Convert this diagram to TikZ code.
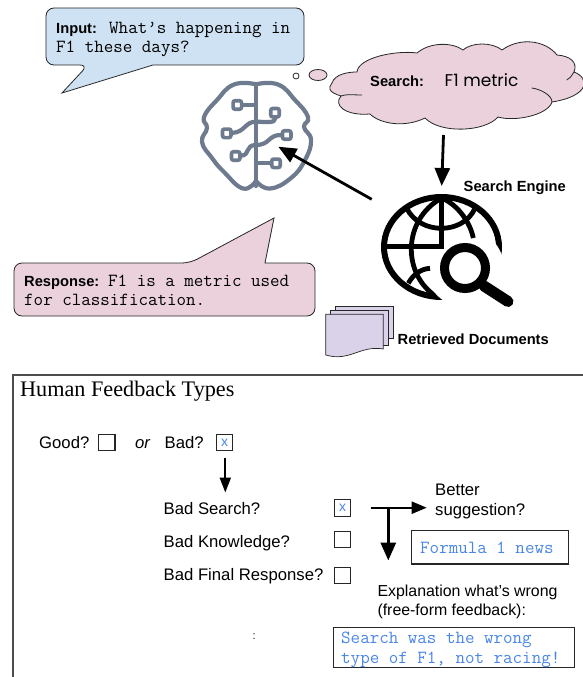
\documentclass[tikz,border=0pt]{standalone}
\usepackage{fontspec}
\setmainfont{Liberation Sans}
\newfontfamily\titlefont{Liberation Serif}
\newfontfamily\queryfont{Poppins}
\usetikzlibrary{arrows.meta}
\definecolor{inputblue}{HTML}{CFE2F3}
\definecolor{responsepink}{HTML}{EAD1DC}
\definecolor{docpurple}{HTML}{D9D2E9}
\definecolor{brainslate}{HTML}{6E7B8E}
\definecolor{typedblue}{HTML}{4A86E8}
\tikzset{
    txt/.style={anchor=base west, inner sep=0pt, align=left, font=\fontsize{16.7}{19.5}\selectfont},
    boldtxt/.style={anchor=base west, inner sep=0pt, font=\fontsize{14.7}{18}\selectfont\bfseries},
    monotxt/.style={anchor=base west, inner sep=0pt, align=left, font=\fontsize{18.5}{19.3}\selectfont\ttfamily},
    typedtxt/.style={monotxt, text=typedblue},
    bubble/.style={draw=black!85, line width=0.8pt},
    checkbox/.style={draw=black!85, line width=1.3pt, fill=white},
    checkmark/.style={checkbox, minimum size=16.5pt, inner sep=0pt, text=typedblue, font=\fontsize{14}{16}\selectfont},
    bigarrow/.style={draw=black, line width=2.8pt, -{Triangle[length=18pt,width=15pt]}},
    brainline/.style={draw=brainslate, line width=4.2pt, line cap=round, line join=round},
    brainport/.style={draw=brainslate, line width=3.6pt, fill=white, rounded corners=2pt, minimum size=8.5pt, inner sep=0pt},
    globeline/.style={draw=black, line width=4.8pt},
    docpage/.style={draw=black!85, line width=0.7pt, fill=docpurple},
}
\begin{document}
\begin{tikzpicture}[x=1pt,y=-1pt]
    \useasboundingbox (0,0) rectangle (583,677);

    \draw [bubble, fill=inputblue] (88,65) -- (62,93) -- (153,65) [rounded corners=8pt] -- (304,65) -- (304,8) -- (46,8) -- (46,65) -- cycle;
    \node [boldtxt] (inputlabel) at (56,33.5) {Input:};
    \node [monotxt] (inputtext) at (109,33.5) {What’s happening in};
    \node [monotxt] (inputtext2) at (56,52.8) {F1 these days?};

    \draw [bubble, fill=responsepink] (190,263) -- (274,218) -- (265,263) [rounded corners=8pt] -- (315,263) -- (315,316) -- (14,316) -- (14,263) -- cycle;
    \node [boldtxt] (responselabel) at (24,286.5) {Response:};
    \node [monotxt] (responsetext) at (108,286.5) {F1 is a metric used};
    \node [monotxt] (responsetext2) at (24,305.5) {for classification.};

    \draw [bubble, fill=white] (296,76) circle [radius=3pt];
    \draw [bubble, fill=responsepink] (318,75) ellipse [x radius=9pt, y radius=5.5pt];
    \draw [bubble, fill=responsepink] (332,83) .. controls (335,74) and (348,72) .. (357,72)
        .. controls (358,58) and (395,50) .. (417,53)
        .. controls (430,42) and (452,42) .. (463,50)
        .. controls (472,42) and (492,42) .. (502,50)
        .. controls (520,37) and (545,40) .. (557,55)
        .. controls (570,56) and (578,62) .. (574,72)
        .. controls (590,78) and (590,96) .. (552,102)
        .. controls (548,115) and (515,122) .. (498,117)
        .. controls (485,132) and (440,134) .. (425,118)
        .. controls (405,128) and (380,124) .. (370,114)
        .. controls (345,116) and (333,105) .. (341,96)
        .. controls (328,92) and (328,88) .. (332,83) -- cycle;
    \draw [bubble] (341,96) .. controls (345,94) and (355,95) .. (362,95);
    \draw [bubble] (531.7,88) .. controls (540,89) and (552,95) .. (552,102);
    \draw [bubble] (566.7,80) .. controls (570,78) .. (574,72);
    \node [boldtxt] (searchlabel) at (370,86) {Search:};
    \node [anchor=base west, inner sep=0pt, font=\queryfont\fontsize{17}{20}\selectfont] (searchquery) at (444.5,86) {F1 metric};

    \draw [brainline] (256,84) -- (256,186);
    \draw [brainline] plot [smooth, tension=0.8] coordinates {(256,84.3) (278,84.5) (295,100) (308,117) (304,127) (311,140) (305,160) (291,178) (270,188.5) (256,181)};
    \draw [brainline] plot [smooth, tension=0.8] coordinates {(256,84.3) (234,84.5) (217,100) (204,117) (207,128) (202,142) (212,158) (224,172) (243,188.5) (256,181)};
    \node [brainport] (portone) at (237.3,105) {};
    \node [brainport] (porttwo) at (226.7,133.3) {};
    \node [brainport] (portthree) at (235.7,156) {};
    \node [brainport] (portfour) at (275,112.7) {};
    \node [brainport] (portfive) at (286.7,135) {};
    \node [brainport] (portsix) at (276,163.3) {};
    \coordinate (stemone) at (256,105);
    \coordinate (stemtwo) at (256,121.7);
    \coordinate (stemthree) at (256,145);
    \coordinate (stemsix) at (256,163.3);
    \draw [brainline] (portone) -- (stemone);
    \draw [brainline] (porttwo) .. controls (245,132) and (245,121.7) .. (stemtwo);
    \draw [brainline] (portthree) .. controls (250,155) and (245,145) .. (stemthree);
    \draw [brainline] (portfour) .. controls (275,123) and (268,122) .. (stemtwo);
    \draw [brainline] (portfive) .. controls (268,135) and (270,145) .. (stemthree);
    \draw [brainline] (portsix) -- (stemsix);

    \draw [globeline, line width=6pt] (441.5,247) ellipse [x radius=57.5pt, y radius=50pt];
    \draw [globeline] (441.7,198) .. controls (402,220) and (402,275) .. (437,297);
    \draw [globeline] (406.7,208.3) .. controls (420,235) and (463,235) .. (475,208.3);
    \fill [white] (465,268) circle [radius=39pt];
    \draw [globeline, line width=5.5pt, line join=miter] (385,246.7) -- (441.7,246.7) -- (441.7,197);
    \draw [globeline] (441.7,198) .. controls (458,205) and (470,222) .. (473.3,238);
    \draw [globeline] (408.3,283.3) .. controls (413,275) and (420,269) .. (430,268.3);
    \draw [draw=black, line width=9pt] (465,268) circle [radius=20.5pt];
    \draw [draw=black, line width=11pt, line cap=round] (484,286) -- (508,301.5);

    \draw [docpage] (335,306) rectangle (393,338);
    \draw [docpage] (330,310) rectangle (388,345);
    \draw [docpage] (325.7,314.3) -- (383.3,314.3) -- (383.3,349) .. controls (360,345) and (350,362) .. (325.7,355) -- cycle;
    \node [boldtxt] (docslabel) at (397.5,344) {Retrieved Documents};
    \node [boldtxt] (enginelabel) at (463.5,191) {Search Engine};

    \coordinate (cloudbottom) at (443.5,135);
    \coordinate (globetop) at (441.7,186);
    \coordinate (globeleft) at (371.7,199.3);
    \coordinate (braincenter) at (278.3,146.7);
    \draw [bigarrow] (cloudbottom) -- (globetop);
    \draw [bigarrow] (globeleft) -- (braincenter);

    \draw [draw=black!70, line width=1.2pt] (13,677) -- (13,375) -- (583,375);
    \node [anchor=base west, inner sep=0pt, font=\titlefont\fontsize{22.2}{26}\selectfont] (feedbacktitle) at (20,396) {Human Feedback Types};

    \node [txt] (goodlabel) at (39,448) {Good?};
    \node [txt, font=\fontsize{16.7}{18}\selectfont\itshape] (orlabel) at (135,448) {or};
    \node [txt] (badlabel) at (164.5,448) {Bad?};
    \node [txt] (badsearch) at (163.5,514) {Bad Search?};
    \node [txt] (badknowledge) at (163.5,547) {Bad Knowledge?};
    \node [txt] (badfinal) at (163.5,580.7) {Bad Final Response?};
    \node [txt, font=\fontsize{11}{13}\selectfont] (dots) at (252.5,639) {:};

    \node [checkbox, minimum size=16.5pt, inner sep=0pt] (goodbox) at (106.7,442.5) {};
    \node [checkmark] (badbox) at (224.5,442.5) {x};
    \node [checkmark] (searchbox) at (342.5,508) {x};
    \node [checkbox, minimum size=16.5pt, inner sep=0pt] (knowledgebox) at (342.5,539.5) {};
    \node [checkbox, minimum size=16.5pt, inner sep=0pt] (finalbox) at (342.5,575.5) {};

    \coordinate (badstart) at (225.3,457.7);
    \coordinate (badend) at (225.3,492.5);
    \coordinate (forkstart) at (370.7,507.7);
    \coordinate (forkright) at (426.7,507.7);
    \coordinate (forkmid) at (388.3,507.7);
    \coordinate (forkdown) at (388.3,560.5);
    \draw [bigarrow, line width=2.2pt, -{Triangle[length=15pt,width=11pt]}] (badstart) -- (badend);
    \draw [bigarrow, line width=2.2pt, -{Triangle[length=15pt,width=12pt]}] (forkstart) -- (forkright);
    \draw [bigarrow, line width=3.2pt] (forkmid) -- (forkdown);

    \node [txt] (bettertext) at (435,515) {Better\\suggestion?};
    \node [txt, font=\fontsize{15.9}{18.5}\selectfont] (explaintext) at (377.3,615) {Explanation what’s wrong\\(free-form feedback):};

    \draw [checkbox] (411.7,530.7) rectangle (568.7,564);
    \node [typedtxt] (suggesttext) at (420,553.5) {Formula 1 news};
    \draw [checkbox] (333.7,627.3) rectangle (574.3,667.3);
    \node [typedtxt] (explainline) at (341,643.5) {Search was the wrong};
    \node [typedtxt] (explainline2) at (341,663) {type of F1, not racing!};
\end{tikzpicture}
\end{document}
